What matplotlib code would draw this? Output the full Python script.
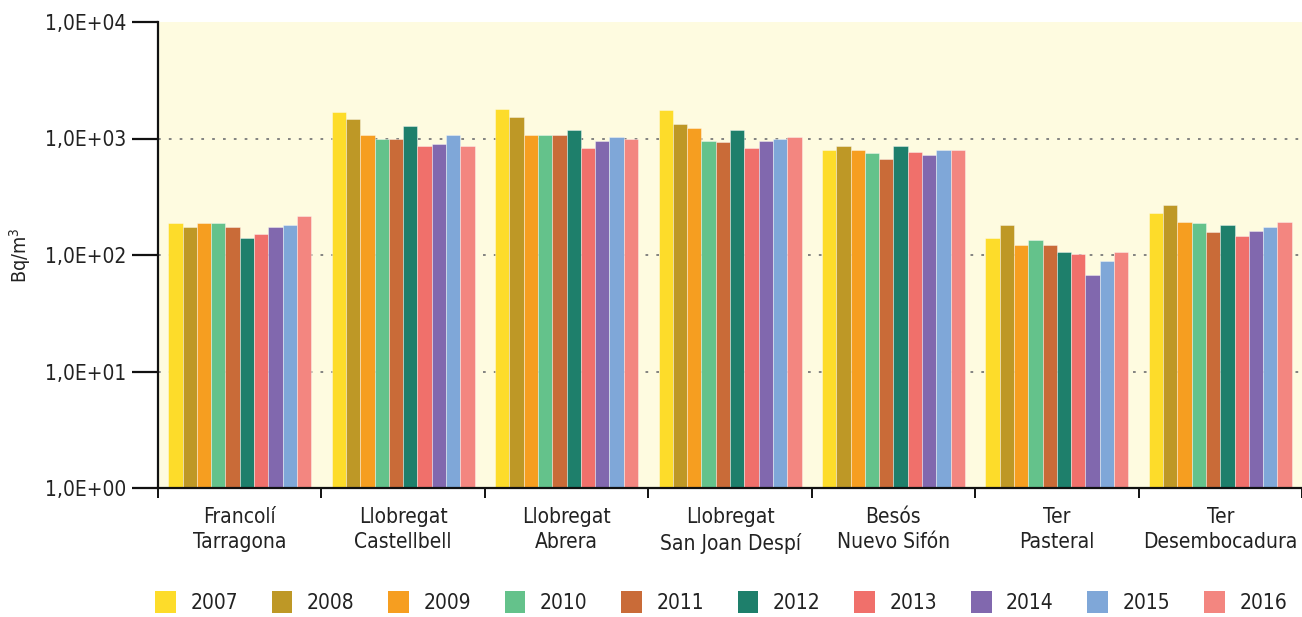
import matplotlib
matplotlib.use("Agg")
import matplotlib.pyplot as plt
import numpy as np
from matplotlib.patches import Patch

plt.rcParams['font.family'] = ['DejaVu Sans']
plt.rcParams['font.stretch'] = 'condensed'

stations = ["Francolí\nTarragona", "Llobregat\nCastellbell", "Llobregat\nAbrera",
            "Llobregat\nSan Joan Despí", "Besós\nNuevo Sifón", "Ter\nPasteral",
            "Ter\nDesembocadura"]
years = ["2007", "2008", "2009", "2010", "2011", "2012", "2013", "2014", "2015", "2016"]
colors = ["#FDDC2A", "#BE9826", "#F69E20", "#64C28B", "#C96B38",
          "#1E7F6B", "#F0706B", "#8168AE", "#7FA7D8", "#F38680"]

# values per station, one entry per year 2007..2016 (Bq/m3)
francoli_tarragona = [187, 174, 187, 187, 174, 141, 151, 174, 180, 215]
llobregat_castellbell = [1688, 1462, 1065, 990, 990, 1273, 857, 891, 1065, 857]
llobregat_abrera = [1803, 1520, 1065, 1065, 1065, 1183, 829, 958, 1024, 990]
llobregat_sjd = [1746, 1323, 1224, 958, 927, 1183, 829, 958, 990, 1024]
besos_nuevo_sifon = [797, 857, 797, 747, 671, 857, 771, 718, 797, 797]
ter_pasteral = [141, 181, 122, 135, 122, 106, 102, 67, 89, 106]
ter_desembocadura = [231, 267, 193, 187, 157, 181, 146, 162, 174, 193]

data = np.array([francoli_tarragona, llobregat_castellbell, llobregat_abrera,
                 llobregat_sjd, besos_nuevo_sifon, ter_pasteral, ter_desembocadura])

fig = plt.figure(figsize=(13.02, 6.17), dpi=100)
ax = fig.add_axes([158/1302, 1 - 488/617, 1144/1302, 466/617])
ax.set_facecolor("#FEFBE0")

n = len(years)
bw = 0.0875
x = np.arange(len(stations))
for i in range(n):
    ax.bar(x - n * bw / 2 + (i + 0.5) * bw, data[:, i], width=bw, color=colors[i],
           edgecolor=(1, 1, 1, 0.45), linewidth=0.6, zorder=3, label=years[i])

ax.set_yscale("log")
ax.set_ylim(1, 1e4)
ax.set_xlim(-0.5, len(stations) - 0.5)
yt = [1, 10, 100, 1000, 10000]
ax.set_yticks(yt)
ax.set_yticklabels(["1,0E+00", "1,0E+01", "1,0E+02", "1,0E+03", "1,0E+04"])
ax.yaxis.set_minor_locator(matplotlib.ticker.NullLocator())
for v in [10, 100, 1000]:
    ax.axhline(v, color="#7a7a7a", linewidth=1.3, linestyle=(0, (1.5, 4.5)), zorder=1)

ax.set_xticks(np.arange(-0.5, len(stations) - 0.5 + 0.01, 1.0))
ax.set_xticklabels([])
ax.set_xticks(x, minor=True)
ax.set_xticklabels(stations, minor=True, fontsize=15, linespacing=1.3, color="#222222")
ax.tick_params(axis="x", which="major", direction="out", length=7, width=1.4, color="#111111")
ax.tick_params(axis="x", which="minor", length=0, pad=14)
ax.tick_params(axis="y", which="major", direction="out", length=19, width=1.6,
               color="#111111", labelsize=15, labelcolor="#222222", pad=4)

for s in ["top", "right"]:
    ax.spines[s].set_visible(False)
for s in ["left", "bottom"]:
    ax.spines[s].set_linewidth(1.6)
    ax.spines[s].set_color("#111111")
    ax.spines[s].set_zorder(5)

fig.text(20/1302, 1 - 255/617, "Bq/m$^3$", rotation=90, ha="center", va="center",
         fontsize=14, color="#222222")

handles = [Patch(facecolor=c, edgecolor="none") for c in colors]
fig.legend(handles, years, loc="center left", ncol=10, frameon=False,
           bbox_to_anchor=(155/1302, 1 - 602/617, 1132/1302, 0.0), mode="expand",
           fontsize=15, handlelength=1.0, handleheight=1.2, handletextpad=0.7,
           labelcolor="#222222", borderaxespad=0, borderpad=0)

fig.savefig("out.png", dpi=100, facecolor="white")
